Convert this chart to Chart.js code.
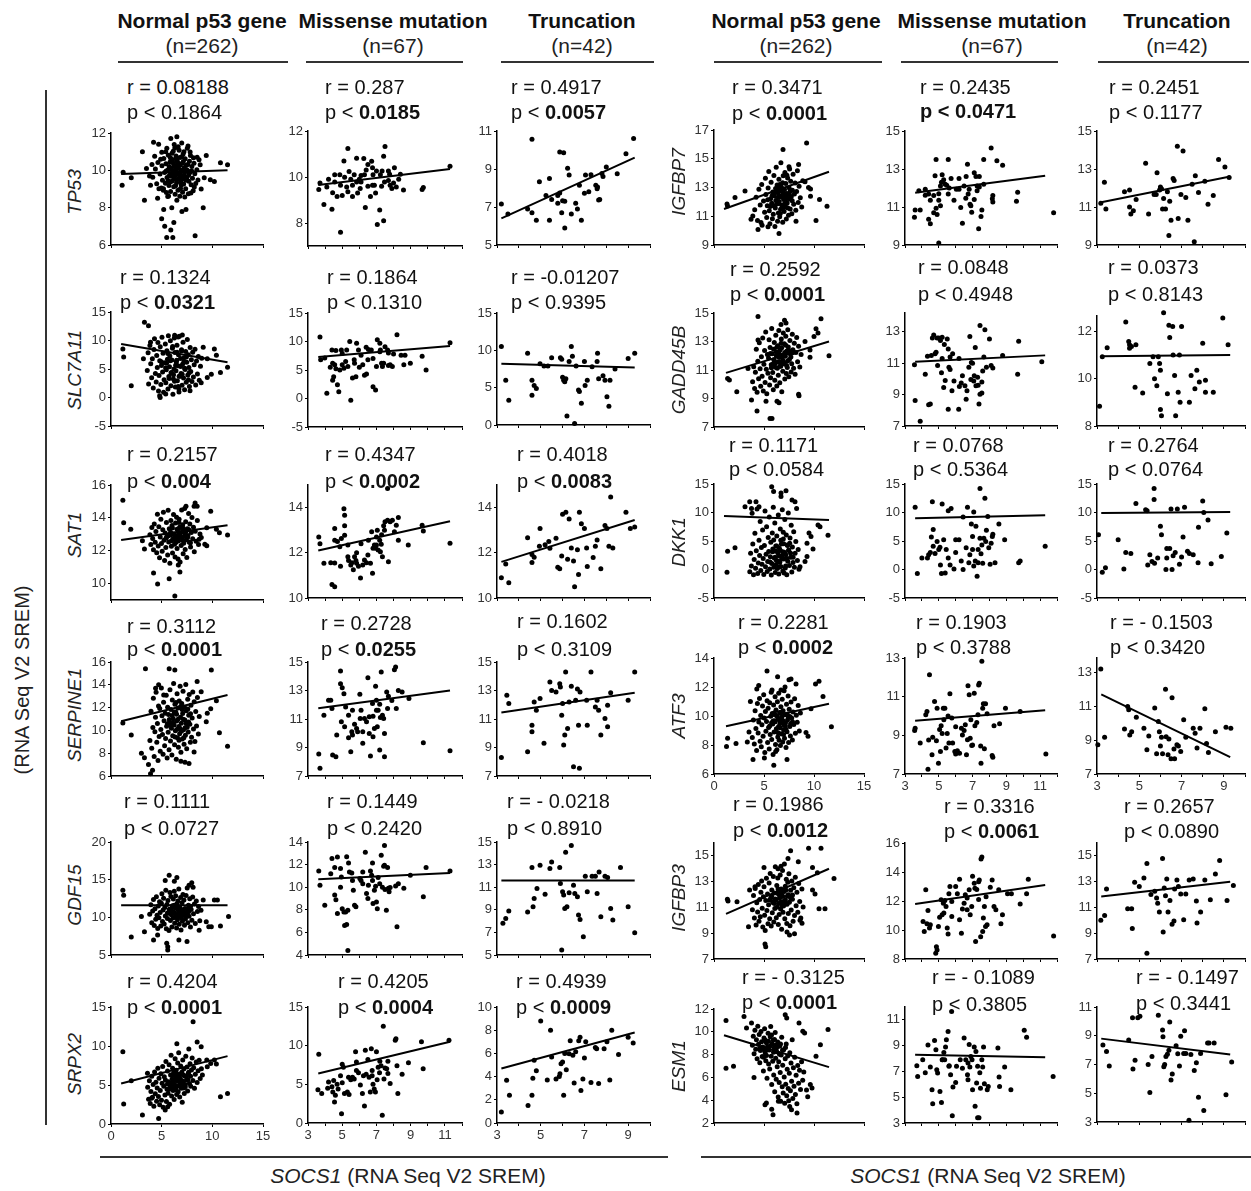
<!DOCTYPE html>
<html><head><meta charset="utf-8">
<script src="https://cdn.jsdelivr.net/npm/chart.js@4.4.1/dist/chart.umd.min.js"></script>
<style>
html,body{margin:0;padding:0;background:#fff;}
body{width:1251px;height:1191px;position:relative;overflow:hidden;font-family:"Liberation Sans",Arial,sans-serif;color:#111;}
.t{position:absolute;white-space:nowrap;line-height:1;}
canvas{position:absolute;}
.ln{position:absolute;background:#333;}
</style></head><body>
<script>
// ---------------- DATA ----------------
const xTicks=[[0,5,10,15],[3,4,5,6,7,8,9,10,11,12],[3,4,5,6,7,8,9,10]];
const xLabels=[[0,5,10,15],[3,5,7,9,11],[3,5,7,9]];
const xRange=[[0,15],[3,12],[3,10]];
const groupTitles=['Normal p53 gene','Missense mutation','Truncation'];
const groupN=['(n=262)','(n=67)','(n=42)'];
const genesL=['TP53','SLC7A11','SAT1','SERPINE1','GDF15','SRPX2'];
const genesR=['IGFBP7','GADD45B','DKK1','ATF3','IGFBP3','ESM1'];

// TP53
const TP53_N=[1.1,9.2,1.2,9.9,2.0,9.6,3.1,11.0,3.3,8.4,4.2,11.5,4.7,11.4,5.0,7.4,5.2,7.9,5.3,7.0,5.5,6.4,6.1,6.4,6.2,7.2,5.9,6.8,5.9,11.7,6.5,11.8,6.3,11.2,8.3,6.5,9.1,8.0,7.4,7.9,9.4,10.8,10.8,10.4,11.5,10.3,9.8,9.5,10.2,9.4,8.5,10.7,6.5,8.4,7.0,7.8,6.0,8.0,5.6,8.6,4.6,8.5,3.8,9.7,3.5,10.1,3.9,9.2,8.9,9.0,9.2,9.6,8.8,10.3,7.6,11.3,7.2,11.0,5.4,11.0,4.9,10.6,
4.12,9.63,4.38,10.07,4.51,9.28,4.63,10.42,4.84,9.81,4.97,9.06,5.03,10.24,5.08,9.47,5.16,8.93,5.21,10.63,5.29,9.88,5.37,9.31,5.42,10.35,5.47,8.81,5.53,9.62,5.61,10.02,5.66,10.81,5.72,9.19,5.77,9.74,5.83,10.44,5.88,8.87,5.94,10.13,6.01,9.41,6.06,10.58,6.09,9.93,6.14,11.02,6.19,9.12,6.23,10.29,6.27,9.58,6.33,8.72,6.38,10.04,6.42,10.77,6.47,9.34,6.52,10.51,6.58,9.79,6.61,8.93,6.66,10.18,6.72,11.08,6.77,9.52,6.81,10.69,6.86,9.03,6.91,10.01,6.97,9.71,7.02,10.38,7.06,8.82,7.12,10.88,7.17,9.27,7.21,10.14,7.26,9.87,7.32,10.62,7.37,9.02,7.43,10.27,7.48,9.61,7.53,11.18,7.57,9.98,7.63,8.74,7.68,9.42,7.74,10.49,7.79,9.89,7.84,10.79,7.91,9.23,7.98,10.21,8.04,9.57,8.11,8.91,8.19,10.38,8.27,9.82,8.36,9.29,8.47,10.03,8.58,9.48,8.69,10.57,5.18,9.02,5.68,8.63,6.37,9.18,6.79,8.61,7.28,8.57,7.88,8.79,8.22,9.11,4.73,9.02,6.02,10.91,6.63,11.27,6.98,11.46,6.24,11.38,5.51,11.18,7.81,10.98,8.13,10.67,4.31,10.76,4.04,10.31,5.01,10.97,5.82,9.37,6.57,10.43,7.22,9.68,6.88,9.39,6.31,10.22,5.92,9.68,7.47,10.03,6.69,9.58,6.12,10.41,7.03,9.96,6.49,9.92,7.71,9.91,6.35,9.75,6.83,10.29,6.16,9.66,7.39,9.47,6.54,10.11,5.97,10.06,7.14,10.47,6.71,9.83,5.63,9.44,7.58,10.31,6.93,9.22,6.44,9.49,5.74,10.21,7.33,10.03,6.03,9.85,6.99,10.73,6.26,9.91,7.09,9.55,5.86,10.67,6.62,10.33,7.66,9.74,6.41,10.62,5.44,9.96,7.96,9.97,6.85,9.76];
const TP53_M=[3.63,9.46,3.7,9.74,3.93,8.8,4.4,8.6,4.56,10.1,4.44,9.32,4.7,9.15,4.9,7.6,5.1,10.7,5.33,11.24,5.14,9.99,5.26,9.57,5.33,9.36,5.6,9.15,5.7,10.1,5.84,9.78,6.1,10.06,6.3,10.1,6.26,10.8,6.5,9.6,6.35,8.67,6.65,9.15,6.77,10.4,6.72,10.68,6.88,9.64,6.95,9.3,7.05,7.93,7.19,8.57,7.23,10.1,7.33,10.26,7.42,10.9,7.42,8.1,7.5,11.33,7.7,9.85,7.77,10.12,7.8,9.64,8.05,10.4,8.16,9.57,8.4,10.12,8.58,9.43,9.67,9.46,9.74,9.54,11.3,10.47,6.1,9.78,5.6,9.64,4.9,9.64,6.05,9.5,7.0,10.26,7.7,10.26,4.86,10.1,4.1,9.57,4.56,9.78,5.84,10.82,6.5,10.54,8.0,9.74,5.4,10.24,6.77,9.64,7.47,9.78,5.0,9.2,6.0,9.9,7.3,9.6,8.3,9.9,5.5,9.9,6.8,10.1,4.2,9.9,7.9,9.5,6.4,10.3,5.9,9.3];
const TP53_T=[3.2,7.16,3.5,6.63,4.4,6.9,4.6,6.7,4.8,6.3,4.6,10.56,4.94,8.33,5.4,6.3,5.4,8.5,5.24,7.6,5.78,7.6,5.87,7.74,5.87,9.9,6.05,9.86,5.78,7.2,6.0,7.33,5.96,6.7,6.1,7.3,6.23,9.04,6.3,8.68,6.1,5.9,6.4,6.63,6.6,7.2,6.68,6.9,6.86,6.3,6.77,8.14,7.0,7.72,7.2,7.8,7.52,8.14,7.58,7.96,7.85,8.6,7.6,8.05,7.65,7.37,7.7,7.4,8.0,9.1,8.5,8.75,8.9,9.8,9.25,10.6,7.8,8.76,7.05,8.68,5.5,7.4,7.3,8.7];
const TP53_fit=[[1,9.8,11.5,10.0],[3.6,9.65,11.3,10.35],[3.2,6.4,9.3,9.6]];
const TP53_yRange=[[6,12],[7,12],[5,11]];
const TP53_yTicks=[[6,8,10,12],[8,10,12],[5,7,9,11]];
const TP53_r=['r = 0.08188','r = 0.287','r = 0.4917'];
const TP53_p=['0.1864','0.0185','0.0057'];
const TP53_bold=[0,1,1];

// SLC7A11
const SLC7A11_N=[1.17,8.5,1.25,7.1,2.0,2.06,3.3,13.2,3.7,12.6,3.2,6.8,3.9,9.7,4.8,0.3,4.85,0.0,5.4,0.6,6.7,1.5,7.8,1.2,8.9,2.6,9.5,3.5,9.9,4.1,10.8,4.4,11.5,5.3,9.1,8.8,10.2,8.5,10.4,7.4,9.5,6.8,
3.58,4.73,3.66,7.86,3.71,2.37,3.84,9.12,3.92,5.94,4.01,3.48,4.08,6.82,4.17,1.66,4.24,8.43,4.29,10.31,4.38,4.19,4.46,2.71,4.51,7.37,4.57,5.28,4.63,9.64,4.69,1.12,4.74,3.87,4.81,6.43,4.86,8.91,4.92,2.29,4.98,5.63,5.03,10.58,5.09,4.47,5.14,7.76,5.19,0.91,5.24,3.12,5.31,6.08,5.36,9.37,5.41,2.58,5.46,4.86,5.52,8.18,5.57,6.72,5.62,1.47,5.66,10.84,5.71,3.67,5.77,5.41,5.81,7.29,5.86,9.96,5.91,2.04,5.96,4.38,6.01,6.57,6.06,8.62,6.11,0.56,6.16,3.26,6.21,5.02,6.25,10.42,6.31,7.91,6.35,1.83,6.41,4.71,6.45,6.24,6.51,9.18,6.55,2.92,6.61,5.57,6.66,7.48,6.71,0.98,6.75,10.73,6.81,3.74,6.86,6.86,6.91,4.23,6.96,8.37,7.01,2.16,7.06,5.84,7.11,9.71,7.16,3.41,7.21,6.97,7.26,1.37,7.31,4.92,7.37,8.08,7.42,2.67,7.47,6.18,7.53,10.16,7.58,3.93,7.63,7.52,7.69,5.26,7.74,1.91,7.81,8.79,7.87,4.54,7.93,6.62,7.99,2.82,8.06,7.94,8.13,3.58,8.21,5.73,8.29,8.46,8.36,2.18,8.44,6.41,8.53,4.12,8.62,7.18,8.71,3.03,8.83,5.49,8.95,6.88,6.28,10.93,6.63,10.62,7.04,10.97,5.48,6.03,6.38,5.66,7.02,4.07,5.93,4.31,6.52,7.96,5.74,3.34,6.87,5.46,7.19,6.29,6.27,2.87,5.39,5.17,6.72,3.72,7.44,7.11,6.08,8.93,5.61,7.74,6.97,8.14,7.72,4.35,6.17,3.98,5.84,6.46,6.48,6.53,7.27,5.14,4.96,6.29,6.64,1.94,7.64,3.12];
const SLC7A11_M=[3.7,10.8,3.74,6.8,3.98,7.1,4.4,8.5,4.63,8.4,4.44,6.2,4.56,5.9,4.44,3.2,4.5,3.8,4.72,2.4,4.8,1.2,4.63,5.2,4.95,8.5,5.0,5.9,5.1,5.3,5.2,6.5,5.26,8.5,5.33,5.6,5.6,3.6,5.44,10.0,5.72,6.2,5.95,8.5,5.84,9.7,6.2,5.9,6.3,4.1,6.42,4.3,6.53,8.6,6.7,8.5,6.8,2.06,6.95,1.5,7.0,5.6,7.05,10.3,7.2,9.7,7.23,8.5,7.2,8.2,7.3,6.2,7.35,5.6,7.42,6.2,7.5,9.1,7.65,8.5,7.7,8.0,7.8,5.9,7.93,5.6,8.2,11.2,8.44,7.6,8.6,5.9,8.67,7.6,8.98,6.2,9.67,7.4,9.9,5.0,11.3,9.8,6.1,7.6,5.7,6.8,4.86,5.0,6.5,6.8,4.1,0.9,5.5,-0.3,6.0,5.5,7.7,5.8,5.0,7.9,6.4,9.0,8.0,7.8,4.3,5.5,6.8,7.0,5.8,3.8];
const SLC7A11_T=[3.2,10.5,3.4,6.0,3.54,3.3,4.4,9.6,4.6,6.0,4.6,4.0,4.7,5.3,4.8,4.9,4.97,8.2,5.15,7.9,5.33,7.9,5.5,9.0,5.9,9.0,5.96,8.8,6.0,6.4,6.05,6.0,6.1,5.8,6.15,6.2,6.2,1.2,6.3,8.5,6.4,10.5,6.45,9.2,6.55,0.2,6.62,7.9,6.73,4.7,6.77,4.5,6.86,2.9,7.0,8.5,7.03,5.3,7.13,6.0,7.35,7.8,7.58,8.5,7.6,9.6,7.65,6.2,7.85,6.6,7.94,6.0,8.03,3.8,8.12,2.5,8.4,7.5,9.0,8.9,9.3,9.6,8.17,6.0];
const SLC7A11_fit=[[1,9.4,11.5,6.2],[3.6,7.3,11.3,9.2],[3.2,8.2,9.3,7.7]];
const SLC7A11_yRange=[[-5,15],[-5,15],[0,15]];
const SLC7A11_yTicks=[[-5,0,5,10,15],[-5,0,5,10,15],[0,5,10,15]];
const SLC7A11_r=['r = 0.1324','r = 0.1864','r = -0.01207'];
const SLC7A11_p=['0.0321','0.1310','0.9395'];
const SLC7A11_bold=[1,0,0];

// SAT1
const SAT1_N=[1.17,15.07,1.25,13.7,1.95,13.3,3.1,12.6,3.3,12.1,4.2,10.64,4.6,9.98,5.74,10.3,6.3,9.24,6.64,11.13,6.8,10.7,7.4,14.7,8.2,14.7,8.3,14.9,8.7,12.7,9.26,12.4,9.45,12.3,9.84,14.4,10.4,13.3,10.7,13.1,11.5,12.96,9.45,13.4,8.5,14.7,
3.84,12.97,3.93,12.38,4.03,13.41,4.11,12.74,4.19,12.06,4.27,13.63,4.36,12.51,4.43,13.17,4.51,11.88,4.58,14.22,4.66,12.29,4.72,13.46,4.79,11.57,4.86,12.83,4.92,13.91,4.98,12.44,5.05,11.96,5.11,13.27,5.17,14.34,5.23,12.63,5.29,11.41,5.35,13.08,5.41,12.19,5.47,13.72,5.53,12.87,5.59,11.74,5.64,14.46,5.69,12.53,5.75,13.34,5.81,11.23,5.86,12.96,5.91,13.84,5.96,12.27,6.02,13.53,6.07,11.86,6.12,12.71,6.17,14.21,6.22,13.03,6.27,12.39,6.32,11.62,6.37,13.68,6.42,12.86,6.47,14.03,6.52,12.14,6.57,13.26,6.62,11.49,6.67,12.61,6.72,13.92,6.77,12.97,6.82,11.31,6.87,13.41,6.92,12.31,6.97,14.48,7.02,12.79,7.07,13.58,7.12,11.81,7.17,12.46,7.22,13.16,7.27,14.57,7.32,12.08,7.37,13.77,7.42,12.66,7.48,11.59,7.54,13.33,7.6,12.92,7.66,14.26,7.72,12.51,7.78,13.62,7.85,12.22,7.92,13.11,7.99,14.02,8.06,12.73,8.14,13.43,8.22,11.93,8.31,13.18,8.4,12.57,8.52,13.84,8.64,12.38,8.78,13.02,8.91,12.81,6.36,12.67,6.96,13.13,7.56,12.81,6.06,13.38,7.26,12.91,6.66,12.98,6.17,12.72,7.06,12.63,6.77,13.43,5.88,13.12,7.37,13.16,6.51,13.31,6.24,12.96,7.68,13.27,5.66,12.91,6.91,12.82,6.43,12.52,7.13,13.37,5.97,12.61,6.59,12.74,7.84,12.48,6.71,13.71,5.44,12.77];
const SAT1_M=[3.63,12.7,3.7,12.4,3.93,11.54,4.33,11.56,4.4,10.6,4.56,10.5,4.56,12.56,4.56,13.08,4.72,12.5,4.86,12.27,4.95,12.63,5.1,13.95,5.14,13.66,5.14,12.78,5.33,12.34,5.33,11.83,5.37,11.66,5.5,11.46,5.56,11.56,5.65,11.25,5.72,11.83,5.8,11.66,5.84,11.54,5.95,11.4,6.07,10.88,6.2,11.46,6.3,11.68,6.42,11.56,6.53,12.56,6.65,11.54,6.72,12.93,6.77,11.1,6.8,12.2,6.88,12.34,6.95,12.2,7.0,12.7,7.05,13.0,7.1,12.12,7.19,12.56,7.23,12.05,7.28,12.38,7.35,11.83,7.42,13.2,7.47,13.0,7.5,13.37,7.65,13.44,7.7,11.6,7.8,13.37,7.93,13.44,8.05,12.93,8.16,13.22,8.28,13.56,8.28,12.56,8.86,12.34,9.67,13.22,9.74,12.97,11.3,12.42,7.65,14.85,6.1,12.4,5.14,13.2,7.0,12.35,7.3,12.8,4.56,11.55,5.84,12.0,6.5,11.9,4.9,11.4];
const SAT1_T=[3.2,10.9,3.4,11.5,3.54,10.67,4.4,12.67,4.6,11.93,4.6,11.57,4.7,11.8,4.94,12.29,4.97,13.07,5.2,12.36,5.37,12.5,5.42,12.2,5.7,12.64,5.78,11.36,5.87,11.29,5.96,11.86,6.0,13.71,6.15,13.79,6.23,11.71,6.3,13.5,6.4,12.21,6.5,11.64,6.55,10.5,6.68,12.14,6.73,11.04,6.77,13.79,6.86,13.29,7.0,13.07,7.1,12.21,7.13,11.39,7.4,11.79,7.5,12.29,7.58,12.57,7.75,11.29,7.94,13.21,8.03,13.07,8.2,14.47,8.12,12.29,8.3,12.21,8.9,13.79,9.1,13.07,9.3,13.14];
const SAT1_fit=[[1,12.65,11.5,13.55],[3.6,12.1,11.3,13.4],[3.2,11.6,9.3,13.45]];
const SAT1_yRange=[[9,16],[10,15],[10,15]];
const SAT1_yTicks=[[10,12,14,16],[10,12,14],[10,12,14]];
const SAT1_r=['r = 0.2157','r = 0.4347','r = 0.4018'];
const SAT1_p=['0.004','0.0002','0.0083'];
const SAT1_bold=[1,1,1];

// SERPINE1
const SERPINE1_N=[1.17,10.66,2.0,9.6,3.4,15.4,3.0,8.0,3.3,7.6,3.7,7.0,3.9,6.2,4.1,6.5,4.4,13.7,4.7,14.0,5.2,13.1,5.74,15.4,6.3,15.3,6.9,7.3,7.3,7.2,7.7,7.1,8.5,14.3,8.9,13.4,9.9,15.3,9.4,10.75,9.5,11.5,9.84,11.9,10.4,12.6,10.7,9.8,11.5,8.6,8.2,8.1,
3.84,9.12,3.95,11.67,4.02,8.43,4.13,10.26,4.18,12.81,4.26,7.72,4.33,9.88,4.39,11.15,4.45,13.34,4.52,8.97,4.58,10.61,4.64,7.35,4.69,12.14,4.75,9.46,4.81,11.93,4.86,8.18,4.92,10.07,4.97,13.72,5.03,11.28,5.08,9.63,5.14,7.91,5.19,12.46,5.24,10.84,5.29,8.66,5.35,11.51,5.39,9.29,5.45,13.08,5.49,10.37,5.54,7.58,5.59,12.03,5.64,9.84,5.68,11.39,5.73,8.31,5.78,10.72,5.82,13.56,5.87,9.07,5.92,11.83,5.96,10.19,6.01,7.84,6.05,12.67,6.09,9.53,6.14,11.02,6.18,14.11,6.23,10.48,6.27,8.74,6.31,12.29,6.35,9.96,6.39,11.61,6.44,7.46,6.48,10.83,6.52,13.21,6.56,9.36,6.61,11.97,6.65,8.52,6.69,10.34,6.73,12.58,6.77,9.71,6.82,13.87,6.86,11.16,6.9,8.09,6.94,10.62,6.98,12.36,7.03,9.24,7.07,11.48,7.11,13.44,7.16,10.05,7.21,8.79,7.25,12.02,7.29,10.91,7.34,9.58,7.38,14.03,7.43,11.73,7.47,8.38,7.52,10.27,7.57,12.74,7.62,9.86,7.67,11.32,7.72,13.15,7.78,10.54,7.83,8.96,7.89,12.21,7.95,9.41,8.01,11.08,8.07,13.37,8.14,10.13,8.21,12.51,8.28,9.02,8.36,11.66,8.44,10.39,8.53,12.88,8.62,9.68,8.71,11.22,6.12,10.66,6.47,11.41,6.79,10.18,7.14,10.97,7.42,10.61,6.33,9.43,6.88,12.09,7.58,11.88,5.91,10.42,6.62,10.97,7.02,11.83,6.24,11.62,7.31,10.24,6.71,9.14,5.76,10.96,7.85,11.47,6.41,12.44,6.95,9.92,7.19,9.36,5.57,10.58,6.53,10.09,7.66,10.73,6.04,11.31];
const SERPINE1_M=[3.63,8.54,3.7,7.54,3.93,11.27,4.2,12.32,4.33,12.32,4.4,11.74,4.44,8.47,4.63,8.35,4.9,14.37,4.9,13.48,5.0,13.2,5.1,12.78,5.14,10.45,5.2,11.85,5.37,9.68,5.5,8.7,5.56,10.1,5.6,9.87,5.72,10.64,5.84,10.34,5.9,10.1,6.03,12.74,6.1,11.62,6.2,9.29,6.3,11.04,6.42,10.8,6.5,13.9,6.58,9.99,6.65,8.4,6.77,12.08,6.8,11.2,6.88,10.34,6.95,13.3,7.0,11.62,7.05,10.45,7.1,11.62,7.19,12.04,7.19,8.82,7.23,11.1,7.28,14.3,7.35,11.27,7.42,11.04,7.47,8.35,7.6,12.9,7.65,11.74,7.7,12.6,8.05,14.46,8.12,14.65,8.16,11.74,8.28,13.0,8.5,12.9,8.9,12.43,9.74,9.34,11.3,8.78,6.05,11.04,5.6,11.62,5.37,11.27,7.0,12.32,6.58,11.15,4.68,9.87,7.47,9.99,7.9,12.3,6.2,10.1,6.8,9.76,4.95,10.8];
const SERPINE1_T=[3.2,8.3,3.45,12.67,3.54,12.09,4.4,8.7,4.6,10.57,4.6,10.1,4.7,12.2,4.8,11.62,4.97,12.44,5.15,9.29,5.42,13.6,5.5,13.0,5.7,12.9,5.87,13.48,5.9,13.25,5.96,11.27,6.0,12.09,6.05,9.18,6.1,9.87,6.14,14.3,6.23,10.34,6.3,12.2,6.4,13.3,6.5,7.65,6.6,12.32,6.68,13.1,6.77,7.54,6.73,10.57,6.8,12.9,7.1,12.32,7.13,10.57,7.3,14.3,7.5,11.85,7.58,12.32,7.65,11.62,7.75,9.87,7.94,11.04,8.06,10.45,8.2,12.84,9.0,12.32,9.3,14.3,8.06,11.97];
const SERPINE1_fit=[[1,10.8,11.5,13.1],[3.6,11.75,11.3,13.0],[3.2,11.45,9.3,12.85]];
const SERPINE1_yRange=[[6,16],[7,15],[7,15]];
const SERPINE1_yTicks=[[6,8,10,12,14,16],[7,9,11,13,15],[7,9,11,13,15]];
const SERPINE1_r=['r = 0.3112','r = 0.2728','r = 0.1602'];
const SERPINE1_p=['0.0001','0.0255','0.3109'];
const SERPINE1_bold=[1,1,0];

// GDF15
const GDF15_N=[1.17,13.6,1.25,12.94,2.0,7.4,3.0,10.1,3.3,8.1,4.2,7.0,4.6,7.65,5.5,6.55,5.6,6.1,5.6,5.66,5.74,15.6,5.35,14.9,6.25,14.8,6.5,15.3,6.7,7.0,7.5,6.8,7.97,14.6,8.1,14.0,7.7,14.27,8.7,8.3,9.4,9.4,9.65,8.75,9.9,8.75,10.2,12.3,10.5,12.3,10.8,8.84,11.6,10.1,9.1,12.3,
3.82,10.41,3.93,11.68,4.02,9.27,4.11,10.83,4.19,12.36,4.27,8.91,4.34,11.14,4.41,9.73,4.48,12.72,4.54,10.26,4.61,8.53,4.67,11.49,4.73,9.96,4.79,12.08,4.85,10.64,4.91,8.84,4.97,11.87,5.02,13.12,5.08,9.44,5.14,10.97,5.19,12.53,5.25,9.11,5.31,11.31,5.36,10.18,5.41,13.58,5.46,8.47,5.52,11.72,5.57,9.86,5.62,12.24,5.67,10.53,5.72,8.26,5.77,11.06,5.82,13.31,5.87,9.58,5.91,12.77,5.96,10.34,6.01,8.71,6.06,11.54,6.11,9.92,6.15,12.42,6.2,10.71,6.24,13.46,6.29,9.21,6.34,11.23,6.38,12.86,6.42,10.07,6.47,8.58,6.51,11.81,6.56,9.67,6.6,12.17,6.64,10.48,6.69,13.76,6.73,9.08,6.78,11.38,6.82,10.22,6.87,12.63,6.91,8.31,6.96,10.87,7.01,11.93,7.05,9.48,7.1,13.02,7.15,10.61,7.2,12.31,7.25,8.94,7.3,11.17,7.35,9.81,7.41,12.91,7.46,10.38,7.52,13.89,7.58,9.29,7.64,11.62,7.7,10.14,7.77,12.47,7.84,8.73,7.91,11.03,7.98,9.62,8.06,12.71,8.14,10.46,8.23,11.78,8.32,9.17,8.42,12.16,8.53,10.76,8.64,11.43,8.76,9.54,8.88,10.93,6.12,10.66,6.46,11.41,6.79,10.68,7.14,10.97,7.42,10.61,6.33,10.43,6.88,11.09,7.58,11.08,5.91,10.92,6.62,10.97,7.02,10.83,6.24,11.62,7.31,10.24,6.71,11.14,5.76,10.96,7.85,11.47,6.41,11.44,6.95,9.92,7.19,10.36,5.57,10.58,6.53,10.09,7.66,10.73,6.04,11.31];
const GDF15_M=[3.63,11.44,3.7,10.18,3.98,8.41,4.33,11.2,4.4,12.53,4.56,11.74,4.56,9.3,4.63,8.9,4.72,7.68,4.72,12.68,4.9,11.65,4.95,10.9,5.0,8.1,5.1,7.8,5.14,6.6,5.2,7.8,5.26,6.7,5.26,12.7,5.33,7.97,5.33,4.4,5.37,12.15,5.42,11.35,5.56,11.26,5.65,9.74,5.72,8.41,5.8,8.26,6.03,10.76,6.1,10.6,6.2,10.3,6.35,13.1,6.42,9.44,6.5,9.0,6.53,10.18,6.65,11.44,6.72,11.06,6.77,12.15,6.8,8.56,6.88,9.74,6.95,10.09,7.0,8.7,7.05,8.1,7.1,10.85,7.47,13.7,7.19,10.3,7.28,12.82,7.35,10.0,7.42,11.85,7.47,11.94,7.5,9.8,7.58,7.97,7.65,11.74,7.7,9.9,7.74,9.6,7.8,9.97,8.12,10.1,8.2,6.5,8.28,10.3,8.6,9.9,8.98,11.06,9.74,9.15,9.9,11.74,11.3,11.44,6.77,10.6,5.6,10.6,4.9,10.0,6.2,11.35];
const GDF15_T=[3.27,7.8,3.4,8.24,3.54,8.9,4.4,8.8,4.6,12.74,4.65,9.26,4.7,10.0,4.83,10.88,4.97,12.94,5.2,10.38,5.42,12.65,5.5,13.24,5.87,12.74,5.9,11.32,5.96,5.44,6.0,10.6,6.05,10.3,6.1,9.12,6.14,14.1,6.2,9.26,6.3,10.5,6.4,14.7,6.5,11.18,6.56,10.44,6.68,10.15,6.73,8.53,6.8,8.15,6.95,6.62,7.04,11.97,7.13,10.6,7.35,11.97,7.5,11.97,7.58,10.44,7.67,12.35,7.75,8.38,7.94,11.97,8.06,11.85,8.2,9.12,8.3,8.1,8.65,12.74,9.0,9.26,9.3,6.97];
const GDF15_fit=[[1,11.6,11.5,11.6],[3.6,10.7,11.3,11.25],[3.2,11.6,9.3,11.6]];
const GDF15_yRange=[[5,20],[4,14],[5,15]];
const GDF15_yTicks=[[5,10,15,20],[4,6,8,10,12,14],[5,7,9,11,13,15]];
const GDF15_r=['r = 0.1111','r = 0.1449','r = - 0.0218'];
const GDF15_p=['0.0727','0.2420','0.8910'];
const GDF15_bold=[0,0,0];

// SRPX2
const SRPX2_N=[1.17,9.26,1.25,2.55,2.0,5.55,3.1,1.15,3.6,6.5,4.0,3.3,4.7,0.72,5.35,1.8,5.6,2.2,6.5,10.3,8.1,13.1,8.9,9.9,9.45,8.2,9.5,7.35,9.84,7.77,10.2,8.2,10.4,7.7,10.8,3.5,11.5,3.9,8.5,10.5,
3.62,4.71,3.71,3.18,3.79,5.53,3.87,2.64,3.94,4.18,4.02,6.12,4.09,3.42,4.16,5.07,4.23,2.28,4.3,6.67,4.37,3.87,4.43,5.36,4.5,2.91,4.56,4.62,4.62,7.14,4.68,3.53,4.74,5.88,4.8,2.47,4.86,4.31,4.92,6.43,4.98,3.06,5.04,5.21,5.1,7.38,5.15,2.16,5.21,4.84,5.26,6.06,5.32,3.71,5.37,5.63,5.42,8.02,5.47,2.89,5.53,4.46,5.58,6.78,5.63,3.94,5.68,5.42,5.73,7.61,5.78,2.53,5.83,4.97,5.88,6.27,5.93,8.83,5.98,3.58,6.03,5.76,6.08,7.16,6.13,4.28,6.18,6.58,6.23,3.13,6.28,5.03,6.33,8.36,6.38,4.69,6.43,6.89,6.48,3.77,6.53,5.47,6.58,7.81,6.63,4.12,6.68,9.14,6.73,6.31,6.78,3.46,6.83,5.84,6.88,7.42,6.93,4.57,6.98,6.63,7.03,2.78,7.08,8.21,7.13,5.29,7.18,7.04,7.23,3.91,7.28,6.16,7.33,4.76,7.38,8.68,7.44,5.61,7.5,7.31,7.56,4.23,7.62,6.46,7.68,9.62,7.74,5.18,7.8,7.73,7.87,4.83,7.94,6.92,8.01,8.47,8.08,5.57,8.16,7.21,8.24,4.58,8.32,6.37,8.41,7.96,8.5,5.31,8.6,6.83,8.7,8.18,8.8,5.84,8.92,7.07,9.02,6.29,6.12,5.46,6.46,5.91,6.79,5.38,7.14,6.27,7.42,6.08,6.33,5.63,6.88,6.39,7.58,5.72,5.91,5.18,6.62,4.87,7.02,5.53,6.24,6.22,7.31,5.04,6.71,5.77,5.76,4.46,7.85,6.12,6.41,4.38,6.95,5.02,7.19,4.63,5.57,5.12,6.53,6.41,7.66,6.64,6.04,4.71];
const SRPX2_M=[3.58,4.3,3.63,8.9,3.8,3.8,4.2,5.3,4.4,4.7,4.45,4.0,4.5,5.5,4.55,2.7,4.6,3.6,4.7,5.0,4.76,4.4,4.9,6.1,4.96,1.2,5.0,7.6,5.07,7.2,5.13,3.8,5.3,4.0,5.37,5.9,5.4,3.7,5.5,5.6,5.6,5.9,5.7,5.7,5.78,9.2,5.83,7.9,5.95,6.5,6.06,4.9,6.18,3.8,6.24,6.1,6.3,2.2,6.35,9.4,6.4,6.3,6.5,8.2,6.57,5.9,6.64,4.0,6.7,9.6,6.75,6.1,6.8,5.0,6.87,4.4,6.94,4.0,7.0,9.2,7.04,5.6,7.1,7.2,7.18,6.5,7.2,8.0,7.27,7.4,7.34,1.0,7.4,12.5,7.44,5.7,7.5,7.1,7.6,7.0,7.67,6.4,7.8,5.1,8.1,10.7,8.14,10.9,8.2,7.4,8.25,3.8,8.5,6.3,8.87,7.8,9.63,10.5,9.73,7.0,11.24,10.7,5.0,5.2,5.83,6.8,4.15,4.5,6.75,6.8,7.67,8.0];
const SRPX2_T=[3.2,0.95,3.44,3.68,3.57,2.4,4.42,1.5,4.6,2.4,4.64,3.85,4.7,5.4,4.8,4.5,5.0,8.8,5.3,3.7,5.45,8.0,5.5,5.7,5.85,4.0,5.88,4.25,5.93,5.1,6.0,5.25,6.05,2.4,6.1,6.0,6.17,4.6,6.3,5.98,6.35,7.1,6.47,5.85,6.53,3.45,6.6,6.15,6.74,7.1,6.8,7.4,6.84,2.8,6.93,3.8,7.0,5.6,7.06,7.0,7.3,3.5,7.5,6.5,7.56,6.4,7.65,3.4,7.9,6.4,8.03,7.0,8.16,3.7,8.25,8.0,8.56,5.9,9.0,7.4,9.23,6.9,5.7,3.8];
const SRPX2_fit=[[1,5.2,11.5,8.7],[3.6,6.4,11.3,10.5],[3.2,4.7,9.3,7.8]];
const SRPX2_yRange=[[0,15],[0,15],[0,10]];
const SRPX2_yTicks=[[0,5,10,15],[0,5,10,15],[0,2,4,6,8,10]];
const SRPX2_r=['r = 0.4204','r = 0.4205','r = 0.4939'];
const SRPX2_p=['0.0001','0.0004','0.0009'];
const SRPX2_bold=[1,1,1];

// IGFBP7
const IGFBP7_N=[1.3,11.85,1.35,11.72,2.1,12.3,3.1,12.76,3.7,10.8,4.4,10.08,4.7,10.57,5.4,10.27,6.5,9.8,6.9,15.64,7.5,14.44,8.46,14.6,9.26,16.1,9.1,13.4,9.45,13.0,9.65,12.9,9.65,12.4,10.55,12.17,10.2,10.7,11.3,11.7,8.2,10.65,
4.07,11.46,4.21,12.33,3.88,11.02,4.35,10.71,4.49,12.88,4.62,11.79,4.77,13.21,4.81,10.38,4.95,12.06,5.06,11.27,5.14,13.64,5.19,12.51,5.27,10.92,5.33,11.73,5.41,12.97,5.48,14.12,5.53,11.38,5.59,10.47,5.66,12.22,5.71,13.36,5.77,11.91,5.84,10.83,5.88,12.68,5.93,11.14,5.99,13.83,6.04,12.41,6.09,10.29,6.13,11.58,6.16,12.93,6.22,14.41,6.27,11.86,6.31,13.17,6.36,10.66,6.39,12.31,6.44,11.22,6.49,13.58,6.52,12.02,6.57,10.97,6.61,12.76,6.66,11.49,6.69,14.73,6.74,13.04,6.78,11.77,6.83,12.44,6.87,10.58,6.92,13.82,6.96,12.17,7.01,11.33,7.05,12.86,7.09,14.04,7.14,11.69,7.18,13.27,7.23,10.81,7.27,12.58,7.32,11.92,7.36,13.66,7.41,12.24,7.45,11.07,7.51,12.99,7.56,14.28,7.62,11.51,7.67,13.43,7.73,12.37,7.78,11.18,7.84,12.81,7.91,13.92,7.97,11.83,8.04,12.54,8.11,13.31,8.18,11.42,8.26,12.73,8.34,14.16,8.42,11.96,8.51,13.08,8.63,12.29,8.77,11.64,8.88,13.47,5.37,12.14,5.62,11.67,6.01,12.58,6.24,12.77,6.47,11.88,6.71,12.36,6.94,12.63,7.16,12.19,7.39,11.58,7.59,12.71,7.82,12.07,6.33,12.96,6.86,13.33,7.29,13.86,6.63,11.19,7.07,11.89,5.96,11.73,6.58,13.21,7.48,12.52,6.18,12.09,6.79,12.88,7.21,12.44,6.42,12.62,7.64,12.18,6.98,11.61,5.81,12.43,6.53,12.39,7.12,12.31];
const IGFBP7_M=[3.56,10.46,3.6,10.84,3.9,10.84,3.82,11.85,4.2,11.94,4.2,11.62,4.4,11.68,4.4,10.35,4.5,10.12,4.5,11.35,4.7,11.6,4.78,12.65,4.84,13.5,4.84,10.94,4.9,10.6,5.0,11.35,5.1,11.07,5.1,12.1,5.16,12.3,5.2,12.7,5.29,12.44,5.38,12.2,5.47,12.15,5.56,13.5,5.62,12.0,5.73,12.5,5.9,11.35,6.04,11.94,6.2,11.94,6.3,10.98,6.4,10.14,6.6,11.46,6.62,12.6,6.7,13.25,6.74,11.68,6.8,11.94,6.85,11.15,6.9,11.07,6.95,10.72,7.1,12.8,7.2,12.6,7.27,12.1,7.27,11.85,7.36,9.86,7.4,12.6,7.5,10.5,7.55,10.84,7.66,13.5,7.66,12.2,8.1,14.1,8.2,11.26,8.17,11.43,8.44,13.44,8.78,13.2,9.6,11.3,9.67,11.77,11.8,10.7,6.5,12.1,5.56,11.68,4.7,10.7,6.2,12.5,7.4,12.05,8.2,11.6,7.1,11.4,5.0,9.1,5.0,11.7];
const IGFBP7_T=[3.18,11.2,3.35,12.3,3.42,10.9,4.3,11.8,4.54,11.9,4.54,11.0,4.6,10.63,4.72,10.8,4.85,11.4,5.3,13.3,5.44,10.63,5.7,11.66,5.8,11.66,5.84,12.8,5.96,11.9,6.0,12.05,6.05,11.96,6.1,10.9,6.15,11.45,6.24,10.9,6.33,11.8,6.4,9.5,6.44,11.3,6.5,10.3,6.6,12.5,6.65,12.4,6.8,14.2,6.84,10.4,6.97,11.66,7.07,13.95,7.2,11.5,7.3,10.3,7.5,12.2,7.6,9.17,7.65,12.65,7.8,11.76,8.1,12.35,8.25,11.15,8.5,11.6,8.75,13.5,9.05,13.1,9.25,12.55];
const IGFBP7_fit=[[1,11.5,11.5,14.1],[3.6,11.75,11.3,12.65],[3.2,11.25,9.3,12.6]];
const IGFBP7_yRange=[[9,17],[9,15],[9,15]];
const IGFBP7_yTicks=[[9,11,13,15,17],[9,11,13,15],[9,11,13,15]];
const IGFBP7_r=['r = 0.3471','r = 0.2435','r = 0.2451'];
const IGFBP7_p=['0.0001','0.0471','0.1177'];
const IGFBP7_bold=[1,2,0];

// GADD45B
const GADD45B_N=[1.36,10.4,1.54,10.3,2.28,9.47,3.4,11.1,4.3,8.13,4.4,14.76,4.4,13.1,5.6,7.6,5.8,7.6,6.3,8.8,6.5,8.7,5.2,8.8,3.75,8.9,8.46,9.3,8.5,9.2,9.6,11.9,10.0,13.35,10.2,13.9,10.4,13.6,9.6,12.4,11.5,12.0,10.7,14.6,9.1,13.0,7.05,14.5,6.7,14.2,7.2,14.3,
3.86,10.17,3.97,11.23,4.06,9.71,4.14,10.84,4.23,12.46,4.31,9.43,4.38,11.62,4.46,10.38,4.53,12.91,4.61,11.08,4.67,9.86,4.74,11.93,4.81,10.57,4.87,13.24,4.93,9.52,4.99,11.41,5.06,12.37,5.11,10.12,5.17,13.67,5.23,11.06,5.28,9.33,5.34,12.09,5.39,10.78,5.45,11.84,5.51,13.12,5.56,9.94,5.61,12.58,5.66,10.46,5.72,11.37,5.77,13.91,5.82,12.14,5.87,10.83,5.93,9.61,5.98,11.72,6.03,12.93,6.08,10.28,6.13,11.49,6.18,13.43,6.23,12.27,6.28,9.87,6.33,11.13,6.38,12.71,6.43,10.64,6.48,13.77,6.53,11.88,6.58,10.11,6.63,12.42,6.68,11.27,6.73,13.18,6.78,9.48,6.83,12.06,6.88,10.92,6.93,13.59,6.98,11.53,7.03,12.84,7.08,10.37,7.13,11.96,7.18,13.36,7.23,10.76,7.28,12.33,7.33,11.18,7.38,13.82,7.43,12.61,7.48,10.53,7.54,11.74,7.59,13.07,7.65,12.18,7.71,10.86,7.77,11.43,7.83,13.51,7.89,12.42,7.96,11.12,8.03,12.87,8.11,10.71,8.19,12.23,8.27,13.28,8.36,11.58,8.46,12.67,8.58,11.21,8.71,12.09,6.34,11.97,6.96,12.04,7.56,12.16,6.04,11.63,7.26,11.31,6.66,11.54,6.47,12.24,6.88,11.69,7.08,12.23,5.86,11.41,6.77,12.56,7.36,11.63,6.23,12.01,6.58,11.26,7.69,11.92,5.64,12.16,6.14,11.19,7.18,12.73,6.41,11.57,5.96,12.46,7.47,12.38,6.82,11.91,6.28,12.59,7.01,11.44,5.74,11.16,6.71,12.87,7.86,12.21,6.53,12.02];
const GADD45B_M=[3.56,10.9,3.6,8.63,3.9,7.3,4.2,10.3,4.33,11.45,4.4,8.35,4.5,8.4,4.56,11.5,4.62,12.6,4.7,12.8,4.78,11.6,4.84,11.7,4.9,12.6,4.93,10.85,5.0,12.6,5.1,12.45,5.16,10.4,5.2,12.65,5.29,9.46,5.33,12.2,5.38,9.9,5.5,12.55,5.56,8.07,5.6,10.75,5.67,10.6,5.78,9.25,5.82,11.6,5.9,9.86,6.18,8.07,6.22,9.52,6.33,9.74,6.4,10.2,6.55,9.56,6.62,8.7,6.67,9.25,6.78,10.75,6.84,12.7,6.9,9.96,6.93,11.05,7.0,11.0,7.07,9.86,7.1,10.2,7.16,12.0,7.2,9.56,7.3,10.1,7.33,9.6,7.38,8.4,7.44,9.03,7.44,13.4,7.55,9.8,7.6,10.5,7.67,11.4,7.73,13.14,7.82,10.75,8.0,12.55,8.1,10.85,8.2,10.7,8.78,11.5,9.73,12.4,9.67,10.3,11.1,11.1,5.2,11.3,5.67,11.4,6.2,11.3,7.55,9.1,5.56,11.9];
const GADD45B_T=[3.12,8.83,3.25,10.93,3.48,11.31,4.36,12.4,4.5,11.57,4.54,11.43,4.54,11.29,4.63,11.36,4.84,11.43,4.8,9.64,5.16,9.4,5.5,10.64,5.65,10.93,5.72,10.0,5.83,9.7,5.9,10.93,5.96,10.64,6.0,10.36,6.0,8.7,6.05,8.43,6.15,12.79,6.33,9.36,6.4,12.26,6.44,11.74,6.58,12.21,6.6,11.0,6.67,10.14,6.72,8.43,6.84,9.43,6.9,11.0,6.93,9.0,7.0,12.21,7.37,9.0,7.45,10.14,7.63,9.57,7.72,10.36,7.84,9.86,8.0,11.5,8.13,9.93,8.13,9.43,8.5,9.43,8.95,12.57,9.2,11.43];
const GADD45B_fit=[[1.2,10.8,11.5,13.0],[3.6,11.1,11.3,11.5],[3.2,10.95,9.3,11.0]];
const GADD45B_yRange=[[7,15],[7,14.2],[8,12.65]];
const GADD45B_yTicks=[[7,9,11,13,15],[7,9,11,13],[8,10,12]];
const GADD45B_r=['r = 0.2592','r = 0.0848','r = 0.0373'];
const GADD45B_p=['0.0001','0.4948','0.8143'];
const GADD45B_bold=[1,0,0];

// DKK1
const DKK1_N=[1.3,-0.5,1.36,3.2,2.1,3.8,3.1,11.0,3.57,11.9,3.75,10.7,4.2,11.9,4.5,11.0,5.77,14.5,5.96,13.7,6.7,13.4,7.2,13.8,6.7,12.8,7.8,12.2,8.1,11.9,9.5,6.4,9.7,5.8,10.4,7.8,10.6,7.5,9.3,4.6,9.3,2.3,9.1,1.4,8.6,0.5,11.4,6.0,9.9,3.6,
3.58,-0.41,3.66,2.83,3.74,0.62,3.81,9.87,3.88,4.46,3.95,-0.93,4.02,1.74,4.09,6.38,4.16,0.23,4.23,3.29,4.3,10.61,4.37,-0.68,4.43,1.16,4.5,5.12,4.56,2.47,4.62,8.43,4.68,-0.17,4.74,3.86,4.8,0.91,4.86,6.94,4.92,1.93,4.98,-0.86,5.04,4.21,5.1,10.28,5.15,0.48,5.21,2.68,5.26,7.51,5.32,-0.34,5.37,1.41,5.42,5.63,5.47,3.17,5.53,9.22,5.58,0.07,5.63,2.22,5.68,4.77,5.73,-0.96,5.78,1.07,5.83,6.42,5.88,3.58,5.93,10.93,5.98,0.39,6.03,2.01,6.08,8.16,6.13,-0.53,6.18,4.12,6.23,1.62,6.28,5.87,6.33,0.18,6.38,2.94,6.43,9.58,6.48,-0.78,6.53,3.71,6.58,1.28,6.63,7.12,6.68,0.54,6.73,4.48,6.78,2.41,6.83,10.47,6.88,-0.27,6.93,5.36,6.98,1.84,7.03,3.02,7.08,8.76,7.13,0.26,7.18,2.57,7.23,6.04,7.28,-0.91,7.33,4.29,7.38,1.46,7.43,9.91,7.48,3.44,7.54,0.71,7.6,5.51,7.66,2.13,7.72,7.78,7.78,-0.46,7.84,3.96,7.9,1.22,7.97,6.61,8.04,0.38,8.11,2.86,8.18,4.91,8.26,10.72,8.34,1.58,8.42,3.52,8.5,0.03,6.47,2.43,7.06,2.83,6.16,3.23,7.36,4.23,6.76,1.83,6.86,3.13,7.16,0.63,6.41,1.43,6.97,4.53,7.66,2.83,6.11,2.13,7.46,3.33,6.68,5.13,6.27,4.13,7.91,2.13,5.86,3.13,6.56,0.43,7.28,1.93,5.61,1.33,6.93,6.53,6.22,0.86,7.01,-0.62,5.97,5.17,7.57,4.62,6.62,3.36];
const DKK1_M=[3.6,10.9,3.73,-0.7,4.0,2.0,4.33,2.0,4.4,2.6,4.5,3.0,4.56,5.7,4.62,11.9,4.67,7.0,4.78,2.8,4.9,4.9,5.0,3.5,5.07,3.9,5.1,0.8,5.16,-0.7,5.2,11.5,5.29,5.2,5.38,-0.6,5.44,3.5,5.56,10.3,5.73,10.7,5.67,0.8,5.9,0.1,6.0,5.2,6.2,5.2,6.33,1.5,6.44,9.2,6.62,3.8,6.7,10.9,6.78,1.2,6.84,2.6,6.93,8.0,7.0,5.8,7.07,0.6,7.07,10.1,7.16,1.5,7.2,7.6,7.27,-1.2,7.33,1.2,7.44,14.2,7.44,5.5,7.5,2.75,7.55,4.3,7.6,1.1,7.67,5.5,7.73,12.5,7.78,4.9,7.82,6.9,7.96,3.8,8.04,0.9,8.1,4.6,8.17,5.8,8.2,6.2,8.33,1.2,8.56,8.0,8.9,5.2,9.73,1.2,9.82,1.5,11.3,4.1,6.0,3.0,5.56,2.0,4.67,4.1,7.33,3.5,6.44,0.0,7.9,9.3,7.0,3.5];
const DKK1_T=[3.07,6.1,3.25,-0.5,3.4,0.3,4.0,5.2,4.27,0.1,4.36,3.0,4.84,11.6,5.3,10.5,5.37,10.3,5.5,2.6,5.6,1.4,5.7,14.2,5.7,12.3,5.72,1.1,5.87,2.0,6.0,7.6,6.05,6.1,6.26,0.0,6.3,3.7,6.44,3.7,6.5,10.6,6.55,0.0,6.6,2.4,6.8,10.6,6.9,0.9,7.07,5.7,7.14,10.9,7.28,3.2,7.37,2.8,7.55,2.6,7.78,1.2,7.8,7.4,8.0,12.0,8.05,10.0,8.25,8.7,8.88,2.3,9.14,6.4,4.6,2.8,6.3,2.0,7.0,2.2,5.4,0.8,8.4,1.0,6.7,3.0];
const DKK1_fit=[[1,9.4,11.5,8.7],[3.6,9.0,11.3,9.5],[3.2,9.9,9.3,10.1]];
const DKK1_yRange=[[-5,15],[-5,15],[-5,15]];
const DKK1_yTicks=[[-5,0,5,10,15],[-5,0,5,10,15],[-5,0,5,10,15]];
const DKK1_r=['r = 0.1171','r = 0.0768','r = 0.2764'];
const DKK1_p=['0.0584','0.5364','0.0764'];
const DKK1_bold=[0,0,0];

// ATF3
const ATF3_N=[1.25,7.9,1.36,8.47,2.2,8.1,3.33,8.2,3.5,8.9,3.64,11.0,3.9,7.0,4.28,11.86,4.47,12.1,5.04,7.1,5.3,13.1,5.8,11.8,5.98,6.6,6.17,7.55,6.36,12.7,7.3,7.0,7.5,12.5,7.7,12.55,8.2,12.2,9.2,8.86,9.4,8.6,9.7,10.5,10.15,12.2,10.5,12.4,10.9,11.35,11.74,9.26,6.7,11.8,7.1,12.0,
3.83,8.51,3.94,9.73,4.03,8.07,4.11,10.36,4.19,9.14,4.26,7.62,4.34,10.87,4.41,8.83,4.48,9.58,4.55,11.21,4.61,8.26,4.67,10.04,4.73,7.88,4.79,9.39,4.85,10.69,4.91,8.61,4.97,11.47,5.02,9.87,5.08,7.49,5.14,10.31,5.19,8.94,5.25,9.62,5.31,11.06,5.36,8.17,5.41,10.53,5.46,9.21,5.52,7.73,5.57,10.92,5.62,8.72,5.67,9.98,5.72,11.63,5.77,8.38,5.82,10.17,5.87,9.44,5.91,7.34,5.96,10.76,6.01,8.89,6.06,9.67,6.11,11.32,6.15,8.04,6.2,10.42,6.24,9.12,6.29,7.68,6.34,10.98,6.38,8.56,6.42,9.81,6.47,11.57,6.51,8.33,6.56,10.24,6.6,9.48,6.64,7.97,6.69,10.63,6.73,8.77,6.78,9.93,6.82,11.16,6.87,8.21,6.91,10.37,6.96,9.06,7.01,11.74,7.05,8.47,7.1,10.08,7.15,9.54,7.2,7.82,7.25,10.81,7.3,8.92,7.35,9.73,7.41,11.38,7.46,8.18,7.52,10.46,7.58,9.28,7.64,8.62,7.7,10.97,7.77,9.86,7.84,8.34,7.91,10.27,7.98,9.42,8.06,11.19,8.14,8.81,8.23,10.06,8.32,9.57,8.42,10.73,8.53,8.96,8.64,10.21,6.12,9.61,6.46,9.27,6.79,9.58,7.13,9.33,7.43,9.94,6.33,9.96,6.88,9.69,7.58,9.97,5.91,9.66,6.62,9.19,7.02,9.36,6.24,10.04,7.31,10.12,6.71,10.26,5.76,9.53,7.85,9.61,6.41,8.84,6.95,8.73,7.19,9.08,5.57,9.31,6.53,9.73,7.66,9.46,6.04,10.22];
const ATF3_M=[3.57,9.25,3.6,9.37,3.9,8.6,4.23,10.06,4.3,10.23,4.36,7.24,4.4,8.76,4.45,12.13,4.6,8.0,4.64,8.9,4.75,10.75,4.86,8.72,4.9,10.4,4.98,7.55,5.05,9.3,5.1,8.16,5.14,9.5,5.2,9.1,5.27,10.4,5.36,10.4,5.43,8.34,5.5,9.1,5.6,8.6,5.66,11.15,5.77,9.9,5.82,8.6,5.95,8.16,6.0,8.03,6.1,8.2,6.23,8.07,6.34,9.37,6.4,9.02,6.5,9.25,6.57,9.55,6.64,8.0,6.73,11.56,6.8,11.1,6.86,8.85,6.9,9.8,6.95,8.47,7.0,8.5,7.1,11.18,7.14,9.5,7.25,9.66,7.32,10.06,7.36,11.6,7.4,11.7,7.48,8.45,7.5,7.55,7.55,12.83,7.6,10.4,7.64,10.63,7.7,8.3,7.77,10.63,7.86,10.11,8.16,7.96,8.2,7.87,8.27,9.5,8.6,9.6,8.95,10.4,9.82,10.23,11.34,8.03,6.0,9.45,5.3,9.8,6.7,8.77,5.55,10.0];
const ATF3_T=[3.04,8.72,3.18,13.2,3.36,9.17,4.3,9.65,4.45,10.99,4.5,10.8,4.55,9.3,4.64,9.5,4.86,10.35,5.22,9.7,5.36,8.43,5.45,9.25,5.73,10.9,5.82,8.2,5.9,10.1,5.95,9.5,6.0,8.66,6.05,9.17,6.1,8.2,6.24,12.0,6.27,9.2,6.36,8.14,6.4,9.06,6.5,7.9,6.55,11.5,6.64,8.47,6.67,7.9,6.78,8.72,6.85,8.66,6.96,8.33,7.1,10.2,7.2,9.17,7.55,9.7,7.64,9.4,7.73,8.53,7.87,9.7,8.1,10.85,8.18,8.8,8.27,8.27,8.6,9.5,9.1,9.76,9.33,9.7];
const ATF3_fit=[[1.2,9.3,11.5,10.85],[3.6,9.75,11.3,10.3],[3.2,11.7,9.3,8.0]];
const ATF3_yRange=[[6,14],[7,13],[7,13.85]];
const ATF3_yTicks=[[6,8,10,12,14],[7,9,11,13],[7,9,11,13]];
const ATF3_r=['r = 0.2281','r = 0.1903','r = - 0.1503'];
const ATF3_p=['0.0002','0.3788','0.3420'];
const ATF3_bold=[1,0,0];

// IGFBP3
const IGFBP3_N=[1.34,11.63,1.4,11.5,2.3,11.45,3.45,9.5,3.56,12.35,4.1,12.6,5.0,14.1,5.1,8.17,5.17,7.96,6.4,14.0,7.3,9.1,7.55,8.87,7.66,15.4,8.05,8.95,8.43,14.55,8.6,10.0,8.8,9.78,9.46,15.6,9.85,14.1,9.85,12.35,10.1,12.05,10.34,13.7,10.5,10.9,10.7,15.6,11.1,10.9,12.0,13.25,7.4,14.8,6.7,14.2,
3.84,10.82,3.95,11.93,4.04,10.18,4.12,12.47,4.21,9.63,4.28,11.36,4.36,10.64,4.43,12.78,4.5,9.92,4.57,11.61,4.63,10.27,4.69,12.18,4.76,13.06,4.82,10.94,4.88,9.48,4.94,11.83,5.0,12.61,5.06,10.39,5.12,9.21,5.18,11.54,5.24,13.27,5.29,10.76,5.35,12.04,5.4,9.74,5.46,11.21,5.51,12.89,5.57,10.13,5.62,13.63,5.67,11.72,5.72,9.56,5.78,12.36,5.83,10.58,5.88,11.38,5.93,13.41,5.98,9.87,6.03,12.13,6.08,10.92,6.13,14.16,6.18,11.57,6.23,10.21,6.28,12.71,6.33,11.04,6.38,13.28,6.43,9.68,6.48,12.01,6.52,10.46,6.57,11.76,6.62,13.52,6.66,10.87,6.71,12.43,6.76,9.31,6.8,11.19,6.85,13.87,6.9,10.63,6.94,12.27,6.99,11.48,7.04,14.37,7.08,10.12,7.13,12.64,7.18,11.27,7.23,13.18,7.28,9.76,7.33,11.86,7.38,12.96,7.43,10.53,7.49,13.61,7.54,11.41,7.6,9.58,7.66,12.34,7.72,10.81,7.78,13.06,7.84,11.63,7.91,9.93,7.98,12.52,8.05,10.37,8.13,13.34,8.21,11.14,8.29,12.17,8.38,10.62,8.47,12.86,8.57,11.47,8.68,10.18,8.79,12.43,8.91,11.03,6.12,11.66,6.46,11.31,6.79,11.96,7.14,11.57,7.42,11.98,6.33,12.13,6.88,11.84,7.58,11.88,5.91,11.42,6.62,12.17,7.02,12.23,6.24,11.62,7.31,11.24,6.71,11.44,5.76,11.86,7.85,11.97,6.41,12.44,6.95,11.12,7.19,12.36,5.57,11.58,6.53,12.09,7.66,11.73,6.04,11.31];
const IGFBP3_M=[4.07,10.59,4.14,9.89,4.23,12.77,4.3,10.43,4.36,11.35,4.45,10.13,4.5,10.36,4.82,8.4,4.86,8.85,4.9,8.62,4.98,10.24,5.05,10.88,5.14,12.08,5.2,11.05,5.27,11.85,5.36,12.03,5.43,11.62,5.5,10.13,5.55,9.73,5.6,12.5,5.66,13.0,5.77,10.93,6.0,13.0,6.1,12.5,6.23,13.5,6.34,9.78,6.4,11.44,6.5,11.85,6.57,12.43,6.68,11.4,6.8,12.77,6.86,11.05,6.95,11.62,7.0,13.7,7.1,13.22,7.14,12.88,7.18,9.2,7.25,12.8,7.36,13.33,7.4,13.45,7.48,9.54,7.5,14.9,7.55,15.03,7.6,9.89,7.64,10.82,7.7,11.62,7.77,10.24,7.86,10.36,8.05,12.95,8.16,13.45,8.27,11.62,8.38,11.4,8.55,12.77,8.68,10.43,8.77,11.05,9.07,12.5,9.3,12.5,9.82,11.8,10.2,12.5,10.3,13.5,11.8,9.59,5.77,11.97,6.68,12.2,5.3,11.17,7.36,12.1,6.23,10.7,7.8,12.3];
const IGFBP3_T=[3.18,10.0,3.36,10.38,3.45,12.44,4.45,10.9,4.64,10.9,4.67,9.36,4.78,12.95,5.0,12.62,5.22,13.28,5.36,14.4,5.55,12.0,5.73,12.26,5.82,11.74,5.87,11.33,5.95,10.64,6.1,14.8,6.13,9.1,6.18,12.5,6.24,11.9,6.3,13.2,6.36,10.64,6.45,11.54,6.55,9.7,6.64,9.95,6.67,12.44,6.78,13.13,6.85,12.62,6.96,12.05,7.1,10.05,7.2,12.05,7.36,13.13,7.55,13.2,7.7,11.5,7.73,9.8,7.9,10.64,8.1,13.13,8.36,11.6,8.6,13.6,8.8,14.65,9.15,11.54,9.45,12.7,5.36,7.44];
const IGFBP3_fit=[[1.2,10.5,11.5,14.0],[3.6,11.8,11.3,13.1],[3.2,11.85,9.3,13.0]];
const IGFBP3_yRange=[[7,16],[8,16],[7,16]];
const IGFBP3_yTicks=[[7,9,11,13,15],[8,10,12,14,16],[7,9,11,13,15]];
const IGFBP3_r=['r = 0.1986','r = 0.3316','r = 0.2657'];
const IGFBP3_p=['0.0012','0.0061','0.0890'];
const IGFBP3_bold=[1,1,0];

// ESM1
const ESM1_N=[1.2,11.0,1.2,6.8,1.95,6.97,3.0,11.35,3.25,10.33,3.75,10.77,4.0,6.0,5.1,3.6,5.24,3.75,5.9,2.73,5.77,3.2,6.44,3.9,7.12,11.5,7.27,11.2,7.57,3.45,7.75,3.17,8.3,2.88,8.5,10.77,8.88,10.04,9.25,4.9,9.37,4.3,9.63,5.37,9.8,5.08,10.2,7.86,10.64,8.87,11.4,10.2,9.06,9.9,
3.84,8.83,3.93,9.62,4.01,8.07,4.09,10.14,4.17,8.46,4.24,9.31,4.31,7.63,4.38,10.48,4.45,8.91,4.52,9.77,4.58,7.28,4.64,8.37,4.7,10.02,4.76,9.12,4.82,7.84,4.88,8.66,4.94,6.57,5.0,9.46,5.06,10.27,5.12,8.13,5.18,7.46,5.24,9.03,5.3,5.92,5.35,8.72,5.41,9.88,5.46,7.17,5.52,8.41,5.57,6.73,5.62,9.56,5.67,10.46,5.72,7.86,5.77,5.38,5.82,8.96,5.87,7.42,5.92,9.28,5.97,6.21,6.02,8.57,6.07,4.74,6.12,9.94,6.17,7.68,6.22,5.83,6.27,8.26,6.32,6.94,6.37,9.11,6.42,4.27,6.47,7.37,6.52,5.56,6.57,8.73,6.62,6.42,6.67,3.91,6.72,7.96,6.77,9.52,6.82,5.17,6.87,7.07,6.92,4.63,6.97,8.42,7.02,6.03,7.07,3.74,7.12,7.63,7.17,5.41,7.22,8.94,7.27,4.38,7.32,6.71,7.37,7.88,7.42,5.02,7.47,3.96,7.53,6.36,7.58,8.17,7.64,4.82,7.7,7.27,7.76,5.67,7.82,9.31,7.88,4.16,7.94,6.84,8.0,5.23,8.07,7.76,8.14,4.51,8.21,6.18,8.29,3.69,8.37,7.04,8.46,5.48,8.55,6.63,8.65,4.93,8.76,7.38,8.87,5.76,8.98,6.47,5.35,8.43,5.95,8.21,6.55,8.02,4.85,8.63,6.25,8.58,5.15,9.26,5.65,8.77,6.05,9.33,4.55,8.52,6.45,8.87,5.25,7.93,5.75,9.71,6.85,8.38,4.95,7.76,6.15,8.81,5.45,9.18,6.65,8.93,5.05,8.36,7.15,8.62];
const ESM1_M=[3.7,7.44,3.75,6.6,4.05,7.9,4.36,9.06,4.5,7.34,4.6,5.58,4.64,4.5,4.75,9.4,4.83,8.68,4.88,7.13,4.93,6.87,5.07,5.45,5.16,4.6,5.23,7.9,5.3,8.47,5.35,7.9,5.4,8.9,5.45,9.45,5.55,10.1,5.6,7.4,5.62,7.44,5.7,6.74,5.76,11.65,5.8,3.57,5.84,5.8,6.0,6.15,6.27,7.9,6.4,7.24,6.5,9.6,6.6,7.9,6.7,6.74,6.73,7.65,6.8,9.1,6.84,7.34,6.9,8.16,6.97,7.9,7.0,5.58,7.1,8.9,7.15,4.3,7.2,8.55,7.24,6.1,7.3,3.4,7.38,3.4,7.43,6.9,7.47,5.7,7.55,7.9,7.6,7.34,7.65,8.9,7.7,6.05,7.87,5.58,7.93,5.83,8.5,8.82,8.57,6.57,8.6,5.83,8.9,7.34,9.27,5.58,10.06,10.2,10.2,9.66,11.77,6.6,5.2,7.9,6.05,7.4,4.2,6.9,7.3,7.4,6.73,6.35];
const ESM1_T=[3.28,8.35,3.45,7.9,3.58,6.9,4.5,8.7,4.68,10.26,4.7,6.68,4.8,7.3,4.93,10.26,5.03,10.35,5.42,7.0,5.5,5.05,5.6,7.55,5.9,10.42,6.1,9.4,6.12,8.93,6.16,6.85,6.2,7.0,6.26,7.55,6.33,7.72,6.4,8.0,6.44,9.95,6.5,5.93,6.56,6.34,6.74,8.3,6.82,7.75,6.9,6.9,6.96,8.97,7.1,7.77,7.14,9.34,7.2,7.77,7.35,3.12,7.44,7.7,7.6,6.58,7.7,7.13,7.8,4.73,7.9,7.77,8.05,3.8,8.23,8.5,8.3,8.5,8.54,8.5,9.1,4.9,9.37,7.18];
const ESM1_fit=[[1,9.7,11.5,6.9],[3.6,8.3,11.3,8.1],[3.2,8.8,9.3,7.7]];
const ESM1_yRange=[[2,12],[3,12],[3,11]];
const ESM1_yTicks=[[2,4,6,8,10,12],[3,5,7,9,11],[3,5,7,9,11]];
const ESM1_r=['r = - 0.3125','r = - 0.1089','r = - 0.1497'];
const ESM1_p=['0.0001','0.3805','0.3441'];
const ESM1_bold=[1,0,0];

// ---------------- LAYOUT ----------------
const COLX=[[111,263],[308,462],[497,650],[714,864],[905,1057],[1097,1245]];
const ROWY=[
 [[133,245],[131,246],[131,245],[130,245],[131,245],[131,245]],
 [[312,426],[313,427],[313,425],[313,427],[313,426],[316,426]],
 [[485,600],[485,598],[485,598],[484,598],[484,598],[484,598]],
 [[662,776],[662,776],[662,776],[658,774],[658,774],[658,774]],
 [[842,955],[842,955],[842,955],[843,959],[843,959],[843,959]],
 [[1007,1124],[1007,1123],[1007,1123],[1009,1123],[1007,1123],[1007,1122]]];
const STATPOS=[
 [[127,87,112],[325,87,112],[511,87,112],[732,87,113],[920,87,111],[1109,87,112]],
 [[120,277,302],[327,277,302],[511,277,302],[730,269,294],[918,267,294],[1108,267,294]],
 [[127,454,481],[325,454,481],[517,454,481],[729,445,469],[913,445,469],[1108,445,469]],
 [[127,626,649],[321,623,649],[517,621,649],[738,622,647],[916,622,647],[1110,622,647]],
 [[124,801,828],[327,801,828],[507,801,828],[733,804,830],[944,806,831],[1124,806,831]],
 [[127,981,1007],[338,981,1007],[516,981,1007],[742,977,1002],[932,977,1004],[1136,977,1003]]];
const GENEPOS_L=[[74,192],[74,370],[74,535],[74,715],[74,895],[74,1064]];
const GENEPOS_R=[[678,182],[678,370],[678,542],[678,716],[678,898],[678,1066]];
const HEADX=[202,393,582,796,992,1177];
const ULINE=[[118,288],[306,463],[501,654],[714,882],[901,1058],[1098,1249]];

const DATA={TP53:[TP53_N,TP53_M,TP53_T,TP53_fit,TP53_yRange,TP53_yTicks,TP53_r,TP53_p,TP53_bold],
SLC7A11:[SLC7A11_N,SLC7A11_M,SLC7A11_T,SLC7A11_fit,SLC7A11_yRange,SLC7A11_yTicks,SLC7A11_r,SLC7A11_p,SLC7A11_bold],
SAT1:[SAT1_N,SAT1_M,SAT1_T,SAT1_fit,SAT1_yRange,SAT1_yTicks,SAT1_r,SAT1_p,SAT1_bold],
SERPINE1:[SERPINE1_N,SERPINE1_M,SERPINE1_T,SERPINE1_fit,SERPINE1_yRange,SERPINE1_yTicks,SERPINE1_r,SERPINE1_p,SERPINE1_bold],
GDF15:[GDF15_N,GDF15_M,GDF15_T,GDF15_fit,GDF15_yRange,GDF15_yTicks,GDF15_r,GDF15_p,GDF15_bold],
SRPX2:[SRPX2_N,SRPX2_M,SRPX2_T,SRPX2_fit,SRPX2_yRange,SRPX2_yTicks,SRPX2_r,SRPX2_p,SRPX2_bold],
IGFBP7:[IGFBP7_N,IGFBP7_M,IGFBP7_T,IGFBP7_fit,IGFBP7_yRange,IGFBP7_yTicks,IGFBP7_r,IGFBP7_p,IGFBP7_bold],
GADD45B:[GADD45B_N,GADD45B_M,GADD45B_T,GADD45B_fit,GADD45B_yRange,GADD45B_yTicks,GADD45B_r,GADD45B_p,GADD45B_bold],
DKK1:[DKK1_N,DKK1_M,DKK1_T,DKK1_fit,DKK1_yRange,DKK1_yTicks,DKK1_r,DKK1_p,DKK1_bold],
ATF3:[ATF3_N,ATF3_M,ATF3_T,ATF3_fit,ATF3_yRange,ATF3_yTicks,ATF3_r,ATF3_p,ATF3_bold],
IGFBP3:[IGFBP3_N,IGFBP3_M,IGFBP3_T,IGFBP3_fit,IGFBP3_yRange,IGFBP3_yTicks,IGFBP3_r,IGFBP3_p,IGFBP3_bold],
ESM1:[ESM1_N,ESM1_M,ESM1_T,ESM1_fit,ESM1_yRange,ESM1_yTicks,ESM1_r,ESM1_p,ESM1_bold]};

// ---------------- DRAW ----------------
const TICKFONT={family:'"Liberation Sans Narrow","Liberation Sans",Arial,sans-serif',size:13};
function pairs(a){const o=[];for(let i=0;i<a.length;i+=2)o.push({x:a[i],y:a[i+1]});return o;}
function el(tag,cls,css,html){const d=document.createElement(tag);if(cls)d.className=cls;Object.assign(d.style,css||{});if(html!==undefined)d.innerHTML=html;document.body.appendChild(d);return d;}

function panel(col,row,pts,fit,yr,yt,showX){
  const g=col%3;
  const [L,R]=COLX[col],[T,B]=ROWY[row][col];
  const padL=34,padR=14,padT=12,padB=22;
  const w=R-L+padL+padR,h=B-T+padT+padB;
  const c=el('canvas',null,{left:(L-padL)+'px',top:(T-padT)+'px',width:w+'px',height:h+'px'});
  c.width=w;c.height=h;
  const xt=xTicks[g],xl=xLabels[g];
  new Chart(c,{type:'scatter',
    data:{datasets:[
      {data:[{x:fit[0],y:fit[1]},{x:fit[2],y:fit[3]}],showLine:true,borderColor:'#000',borderWidth:2,pointRadius:0,clip:false,order:0},
      {data:pairs(pts),pointRadius:2.5,pointBackgroundColor:'#000',pointBorderWidth:0,clip:false,order:1}]},
    options:{responsive:false,animation:false,events:[],
      layout:{padding:{left:0,right:padR,top:padT,bottom:0}},
      plugins:{legend:{display:false},tooltip:{enabled:false}},
      scales:{
        x:{type:'linear',min:xRange[g][0],max:xRange[g][1],
          afterBuildTicks:s=>{s.ticks=xt.map(v=>({value:v}));},
          afterFit:s=>{s.height=padB;},
          ticks:{autoSkip:false,maxRotation:0,padding:2,color:'#333',font:TICKFONT,callback:v=>(showX&&xl.includes(v))?String(v):''},
          grid:{drawOnChartArea:false,drawTicks:true,tickLength:3,color:'#000',lineWidth:1},
          border:{display:true,color:'#000',width:1.5}},
        y:{type:'linear',min:yr[0],max:yr[1],
          afterBuildTicks:s=>{s.ticks=yt.map(v=>({value:v}));},
          afterFit:s=>{s.width=padL;},
          ticks:{autoSkip:false,padding:2,color:'#333',font:TICKFONT,callback:v=>String(v)},
          grid:{drawOnChartArea:false,drawTicks:true,tickLength:3,color:'#000',lineWidth:1},
          border:{display:true,color:'#000',width:1.5}}}}});
}

// headers
for(let i=0;i<6;i++){
  el('div','t',{left:HEADX[i]+'px',top:'20px',transform:'translate(-50%,-50%)',fontWeight:'bold',fontSize:'21px',color:'#111'},groupTitles[i%3]);
  el('div','t',{left:HEADX[i]+'px',top:'45px',transform:'translate(-50%,-50%)',fontSize:'21px',color:'#222'},groupN[i%3]);
  el('div','ln',{left:ULINE[i][0]+'px',top:'61px',width:(ULINE[i][1]-ULINE[i][0])+'px',height:'2px'});
}
el('div','ln',{left:'45px',top:'90px',width:'2px',height:'1035px'});
el('div','t',{left:'22px',top:'680px',transform:'translate(-50%,-50%) rotate(-90deg)',fontSize:'20px',color:'#222'},'(RNA Seq V2 SREM)');
el('div','ln',{left:'100px',top:'1156px',width:'568px',height:'2px'});
el('div','ln',{left:'701px',top:'1156px',width:'550px',height:'2px'});
el('div','t',{left:'408px',top:'1175px',transform:'translate(-50%,-50%)',fontSize:'21px',color:'#222'},'<i>SOCS1</i> (RNA Seq V2 SREM)');
el('div','t',{left:'988px',top:'1175px',transform:'translate(-50%,-50%)',fontSize:'21px',color:'#222'},'<i>SOCS1</i> (RNA Seq V2 SREM)');

function buildSide(genes,offset,gpos){
  genes.forEach((gname,row)=>{
    const d=DATA[gname];
    el('div','t',{left:gpos[row][0]+'px',top:gpos[row][1]+'px',transform:'translate(-50%,-50%) rotate(-90deg)',fontStyle:'italic',fontSize:'19px',color:'#222'},gname);
    for(let k=0;k<3;k++){
      const col=offset+k;
      const showX=(offset===0&&row===5)||(offset===3&&row===3);
      panel(col,row,d[k],d[3][k],d[4][k],d[5][k],showX);
      const sp=STATPOS[row][col];
      el('div','t',{left:sp[0]+'px',top:sp[1]+'px',transform:'translateY(-50%)',fontSize:'20px'},d[6][k]);
      const b=d[8][k];
      const ph=b===2?'<b>p &lt; '+d[7][k]+'</b>':(b===1?'p &lt; <b>'+d[7][k]+'</b>':'p &lt; '+d[7][k]);
      el('div','t',{left:sp[0]+'px',top:sp[2]+'px',transform:'translateY(-50%)',fontSize:'20px'},ph);
    }
  });
}
buildSide(genesL,0,GENEPOS_L);
buildSide(genesR,3,GENEPOS_R);
</script>
</body></html>
